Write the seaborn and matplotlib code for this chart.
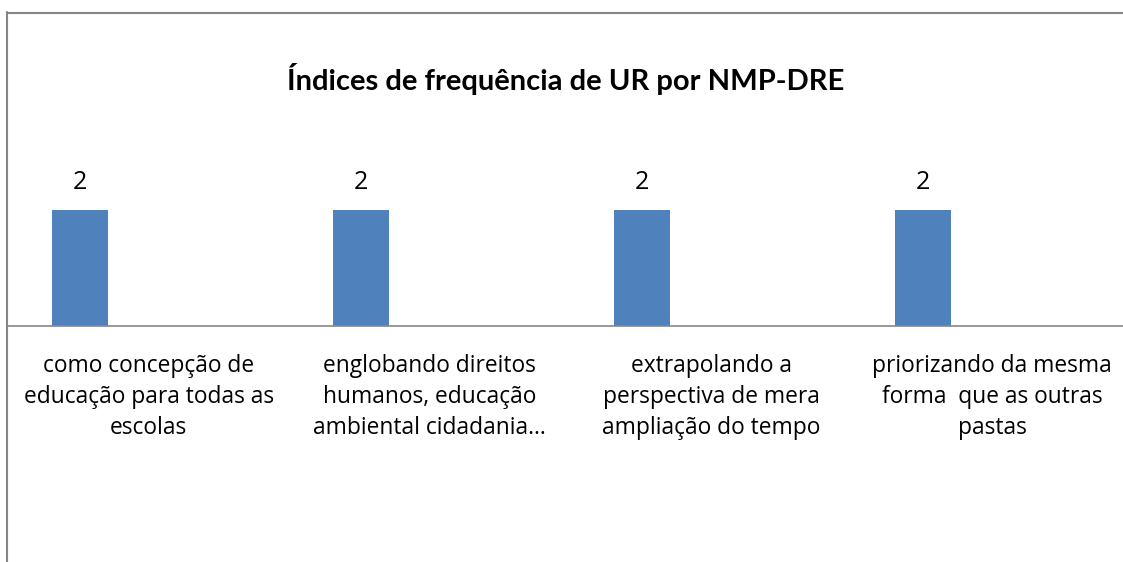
import matplotlib
matplotlib.use("Agg")
import matplotlib.pyplot as plt
import seaborn as sns
import pandas as pd
import numpy as np

categories = [
    "como concepção de\neducação para todas as\nescolas",
    "englobando direitos\nhumanos, educação\nambiental cidadania...",
    "extrapolando a\nperspectiva de mera\nampliação do tempo",
    "priorizando da mesma\nforma  que as outras\npastas",
]
values = [2, 2, 2, 2]
title = "Índices de frequência de UR por NMP-DRE"

sns.set_theme(style="white")
plt.rcParams['font.family'] = ['Open Sans', 'DejaVu Sans']

W, H = 1123, 562
fig = plt.figure(figsize=(W / 100, H / 100), dpi=100)

ax_left = 8 / W
ax_bottom = 1 - 326 / H
ax_top_px = 152
ax = fig.add_axes([ax_left, ax_bottom, 1 - ax_left, (326 - ax_top_px) / H])

offset = -0.245
df = pd.DataFrame({"pos": np.arange(len(values)) + offset, "val": values})
sns.barplot(data=df, x="pos", y="val", native_scale=True, width=0.2,
            color="#4F81BD", saturation=1, ax=ax, edgecolor="none")

ax.set_xlim(-0.5, 3.465)
ax.set_ylim(0, 3)
for s in ["top", "right", "left"]:
    ax.spines[s].set_visible(False)
ax.spines["bottom"].set_color("#868686")
ax.spines["bottom"].set_linewidth(1.2)
ax.set_xticks([])
ax.set_yticks([])
ax.set_xlabel("")
ax.set_ylabel("")

for p, v in zip(df["pos"], df["val"]):
    ax.annotate(str(v), (p, v), xytext=(0, 20), textcoords="offset points",
                ha="center", va="center", fontsize=18, color="black")

for i, c in enumerate(categories):
    ax.annotate(c, (i, 0), xytext=(0, -20), textcoords="offset points",
                ha="center", va="top", fontsize=16.4, color="black",
                linespacing=1.40)

fig.text(566 / W, 1 - 90 / H, title, ha="center", va="baseline",
         fontsize=21, fontweight="bold", color="black", family=["Lato", "DejaVu Sans"])

fig.add_artist(plt.Line2D([7 / W, 7 / W], [0, 1 - 12 / H], color="#868686", lw=1.5))
fig.add_artist(plt.Line2D([7 / W, 1], [1 - 12.5 / H, 1 - 12.5 / H], color="#868686", lw=1.5))

fig.savefig("out.png", dpi=100)
